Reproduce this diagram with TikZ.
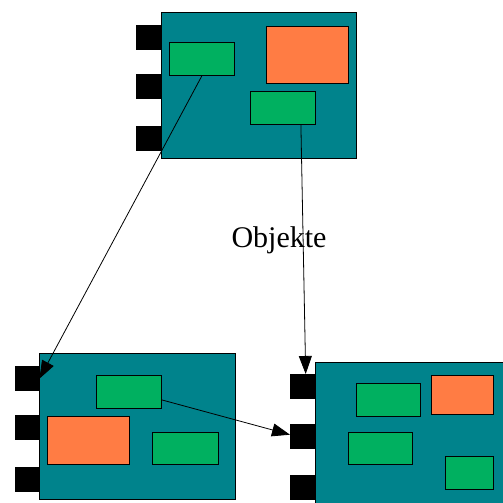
\documentclass[tikz,border=0pt]{standalone}
\usepackage{fontspec}
\setmainfont{Liberation Serif}
\usepackage{tikz}
\usetikzlibrary{arrows.meta}
\definecolor{boardteal}{RGB}{0,131,140}
\definecolor{objgreen}{RGB}{0,176,96}
\definecolor{objorange}{RGB}{255,124,68}
\tikzset{
  board/.style={draw=black, fill=boardteal, anchor=north west, inner sep=0pt, line width=0.8pt},
  port/.style={fill=black, anchor=north west, inner sep=0pt, minimum width=25, minimum height=25},
  gobj/.style={draw=black, fill=objgreen, anchor=north west, inner sep=0pt, line width=0.8pt},
  oobj/.style={draw=black, fill=objorange, anchor=north west, inner sep=0pt, line width=0.8pt},
  conn/.style={draw=black, line width=0.8pt, -{Triangle[length=18pt,width=13pt]}}
}

\begin{document}
\begin{tikzpicture}[x=1pt,y=-1pt]
            \clip (0,0) rectangle (503,503);

            % top component
            \node[board, minimum width=195, minimum height=146] (top) at (161,12) {};
            \node[port] (tp1) at (136,25) {};
            \node[port] (tp2) at (136,74) {};
            \node[port] (tp3) at (136,126) {};
            \node[gobj, minimum width=65, minimum height=33] (topa) at (169,42) {};
            \node[oobj, minimum width=82, minimum height=57] (topo) at (266,26) {};
            \node[gobj, minimum width=65, minimum height=33] (topb) at (250,91) {};

            % bottom left component
            \node[board, minimum width=196, minimum height=146] (bl) at (39,353) {};
            \node[port, minimum width=24] (blp1) at (15,366) {};
            \node[port, minimum width=24] (blp2) at (15,415) {};
            \node[port, minimum width=24] (blp3) at (15,467) {};
            \node[gobj, minimum width=65, minimum height=33] (blg) at (96,375) {};
            \node[oobj, minimum width=82, minimum height=48] (blo) at (47,416) {};
            \node[gobj, minimum width=66, minimum height=32] (blh) at (152,432) {};

            % bottom right component
            \node[board, minimum width=200, minimum height=150] (br) at (315,362) {};
            \node[port] (brp1) at (290,374) {};
            \node[port] (brp2) at (290,424) {};
            \node[port] (brp3) at (290,475) {};
            \node[gobj, minimum width=64, minimum height=33] (brg) at (356,383) {};
            \node[oobj, minimum width=62, minimum height=39] (bro) at (431,375) {};
            \node[gobj, minimum width=64, minimum height=32] (brh) at (348,432) {};
            \node[gobj, minimum width=48, minimum height=33] (bri) at (445,456) {};

            \node[anchor=base, font=\fontsize{30}{36}\selectfont] (lbl) at (279,247) {Objekte};

            \draw[conn] (topa.south) -- (blp1.east);% to the left
            \draw[conn] ([xshift=18pt]topb.south) -- ([xshift=3pt]brp1.north);% down
            \draw[conn] ([yshift=-8pt]blg.east) -- ([yshift=2pt]brp2.west);
        \end{tikzpicture}
\end{document}
